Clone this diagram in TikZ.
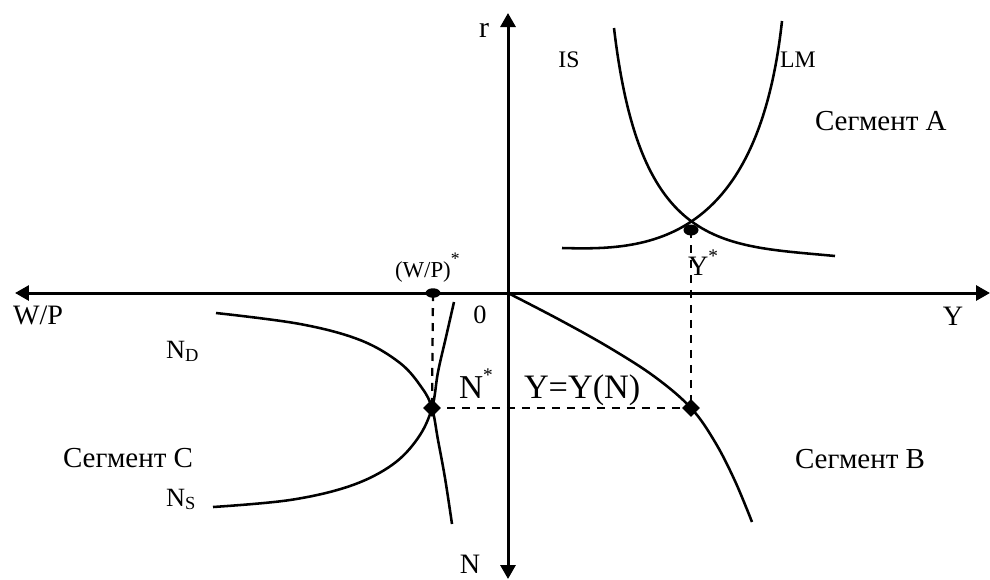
\documentclass[tikz,border=0pt]{standalone}
\usepackage{fontspec}
\setmainfont{Liberation Serif}
\usetikzlibrary{arrows.meta,shapes.geometric}
\newcommand{\fs}[1]{\fontsize{#1}{#1}\selectfont}
\tikzset{
  axisline/.style={line width=1.7pt, {Triangle[length=0.28cm,width=0.3cm]}-{Triangle[length=0.28cm,width=0.3cm]}},
  curveline/.style={line width=1.45pt},
  dashline/.style={line width=1.3pt, dash pattern=on 0.16cm off 0.14cm},
  dotmark/.style={ellipse, fill=black, inner sep=0pt, minimum width=0.3cm, minimum height=0.22cm},
  diamark/.style={diamond, fill=black, inner sep=0pt, minimum width=0.36cm, minimum height=0.36cm},
  lbl/.style={inner sep=0pt, outer sep=0pt},
}
\begin{document}
\begin{tikzpicture}[x=0.02cm, y=-0.02cm]
\useasboundingbox (0,0) rectangle (990,579);
% axis ends
\coordinate (O) at (508,293);
\coordinate (xl) at (15,293);
\coordinate (xr) at (990,293);
\coordinate (yt) at (508,13);
\coordinate (yb) at (508,579);
% key points
\coordinate (pA) at (691,230);
\coordinate (pW) at (433,293);
\coordinate (pC) at (432,408);
\coordinate (pB) at (691,408);
% axes
\draw[axisline] (xl) -- (xr);
\draw[axisline] (yb) -- (yt);
% curves
\draw[curveline] (614,28) .. controls (640,250) and (720,245) .. (835,256);
\draw[curveline] (562,248) .. controls (640,250) and (757,250) .. (782,21);
\draw[curveline] plot[smooth, tension=0.6] coordinates {(508,293) (560,320) (610,348) (655,377) (691,408) (715,442) (735,481) (752,522)};
\draw[curveline] plot[smooth, tension=0.6] coordinates {(216,313) (300,324) (360,340) (400,363) (422,388) (432,408) (438,440) (445,478) (452,524)};
\draw[curveline] plot[smooth, tension=0.6] coordinates {(213,507) (290,500) (350,486) (392,465) (418,438) (432,408) (438,372) (446,337) (454,302)};
% dashed guides
\draw[dashline] (pA) -- (pB);
\draw[dashline] (pW) -- (pC);
\draw[dashline] (pC) -- (pB);
% markers
\node[dotmark] (eqA) at (pA) {};
\node[dotmark, minimum height=0.19cm] (eqW) at (pW) {};
\node[diamark] (eqC) at (pC) {};
\node[diamark] (eqB) at (pB) {};
% labels
\node[lbl, anchor=base] (lr) at (484,37) {\fs{17}r};
\node[lbl, anchor=base] (lis) at (569,67) {\fs{13.5}IS};
\node[lbl, anchor=base] (llm) at (798,67) {\fs{13.5}LM};
\node[lbl, anchor=base west] (lsa) at (815,130) {\fs{16.5}Сегмент  A};
\node[lbl, anchor=base west] (lys) at (688,275) {\fs{16}Y\raisebox{0.45em}{\fs{11}*}};
\node[lbl, anchor=base west] (lwps) at (395,277) {\fs{13}(W/P)\raisebox{0.55em}{\fs{10}*}};
\node[lbl, anchor=base west] (lwp) at (13,324) {\fs{16}W/P};
\node[lbl, anchor=base] (l0) at (480,323) {\fs{15}0};
\node[lbl, anchor=base] (ly) at (953,325) {\fs{16}Y};
\node[lbl, anchor=base west] (lnd) at (166,358) {\fs{15}N\raisebox{-0.15em}{\fs{10.5}D}};
\node[lbl, anchor=base west] (lns) at (166,506) {\fs{15}N\raisebox{-0.15em}{\fs{10.5}S}};
\node[lbl, anchor=base west] (lnst) at (459,398) {\fs{19}N\raisebox{0.5em}{\fs{11}*}};
\node[lbl, anchor=base west] (lyn) at (524,398) {\fs{19.5}Y=Y(N)};
\node[lbl, anchor=base west] (lsc) at (63,467) {\fs{16.5}Сегмент C};
\node[lbl, anchor=base west] (lsb) at (795,468) {\fs{16.5}Сегмент B};
\node[lbl, anchor=base] (ln) at (470,573) {\fs{16}N};
\end{tikzpicture}
\end{document}
